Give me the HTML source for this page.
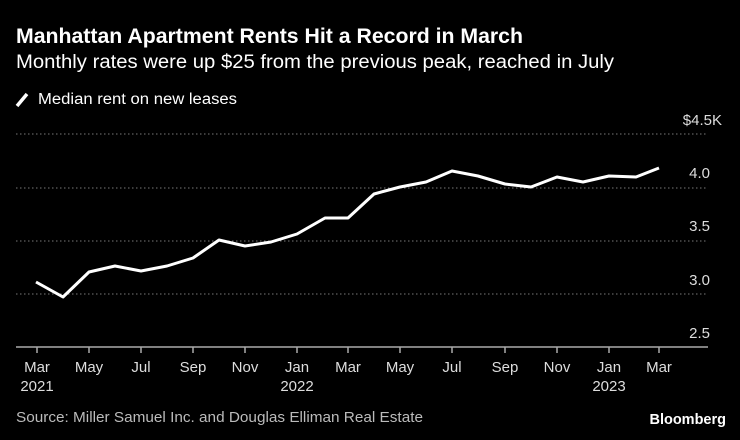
<!DOCTYPE html>
<html><head><meta charset="utf-8"><style>
body{margin:0;background:#000;width:740px;height:440px;overflow:hidden;font-family:"Liberation Sans",sans-serif;color:#fff}
svg{position:absolute;left:0;top:0}
</style></head><body>
<svg width="740" height="440" xmlns="http://www.w3.org/2000/svg" font-family="Liberation Sans, sans-serif">
<text x="16" y="43" font-size="21" font-weight="bold" fill="#fff" textLength="507" lengthAdjust="spacingAndGlyphs">Manhattan Apartment Rents Hit a Record in March</text>
<text x="16" y="68" font-size="19" fill="#fff" textLength="598" lengthAdjust="spacingAndGlyphs">Monthly rates were up $25 from the previous peak, reached in July</text>
<line x1="17" y1="106" x2="27" y2="94" stroke="#fff" stroke-width="3.5"/>
<text x="38" y="104" font-size="15.5" fill="#fff" textLength="199" lengthAdjust="spacingAndGlyphs">Median rent on new leases</text>
<g stroke="#777" stroke-width="1" stroke-dasharray="1.5,2.5">
<line x1="16" y1="134" x2="708" y2="134"/><line x1="16" y1="188" x2="708" y2="188"/>
<line x1="16" y1="241" x2="708" y2="241"/><line x1="16" y1="294" x2="708" y2="294"/>
</g>
<g font-size="15" fill="#ddd" text-anchor="end">
<text x="722" y="125">$4.5K</text><text x="710" y="178">4.0</text><text x="710" y="231">3.5</text><text x="710" y="285">3.0</text><text x="710" y="338">2.5</text>
</g>
<line x1="16" y1="347" x2="708" y2="347" stroke="#aaa" stroke-width="1.5"/>
<g stroke="#aaa" stroke-width="1.5">
<line x1="37" y1="347" x2="37" y2="353"/><line x1="89" y1="347" x2="89" y2="353"/><line x1="141" y1="347" x2="141" y2="353"/><line x1="193" y1="347" x2="193" y2="353"/><line x1="245" y1="347" x2="245" y2="353"/><line x1="297" y1="347" x2="297" y2="353"/><line x1="348" y1="347" x2="348" y2="353"/><line x1="400" y1="347" x2="400" y2="353"/><line x1="452" y1="347" x2="452" y2="353"/><line x1="505" y1="347" x2="505" y2="353"/><line x1="557" y1="347" x2="557" y2="353"/><line x1="609" y1="347" x2="609" y2="353"/><line x1="659" y1="347" x2="659" y2="353"/>
</g>
<g font-size="15" fill="#ddd" text-anchor="middle">
<text x="37" y="372">Mar</text><text x="89" y="372">May</text><text x="141" y="372">Jul</text><text x="193" y="372">Sep</text><text x="245" y="372">Nov</text><text x="297" y="372">Jan</text><text x="348" y="372">Mar</text><text x="400" y="372">May</text><text x="452" y="372">Jul</text><text x="505" y="372">Sep</text><text x="557" y="372">Nov</text><text x="609" y="372">Jan</text><text x="659" y="372">Mar</text>
<text x="37" y="391">2021</text><text x="297" y="391">2022</text><text x="609" y="391">2023</text>
</g>
<polyline fill="none" stroke="#fff" stroke-width="3" stroke-linejoin="round" points="36,282 63,297 89,272 115,266 141,271 167,266 193,258 219,240 245,246 271,242 297,234 325,218 348,218 374,194 400,187 426,182 452,171 478,176 505,184 531,187 557,177 583,182 609,176 636,177 659,168"/>
<text x="16" y="422" font-size="15" fill="#bbb" textLength="407" lengthAdjust="spacingAndGlyphs">Source: Miller Samuel Inc. and Douglas Elliman Real Estate</text>
<text x="726" y="424" font-size="14.5" font-weight="bold" fill="#fff" text-anchor="end">Bloomberg</text>
</svg>
</body></html>
